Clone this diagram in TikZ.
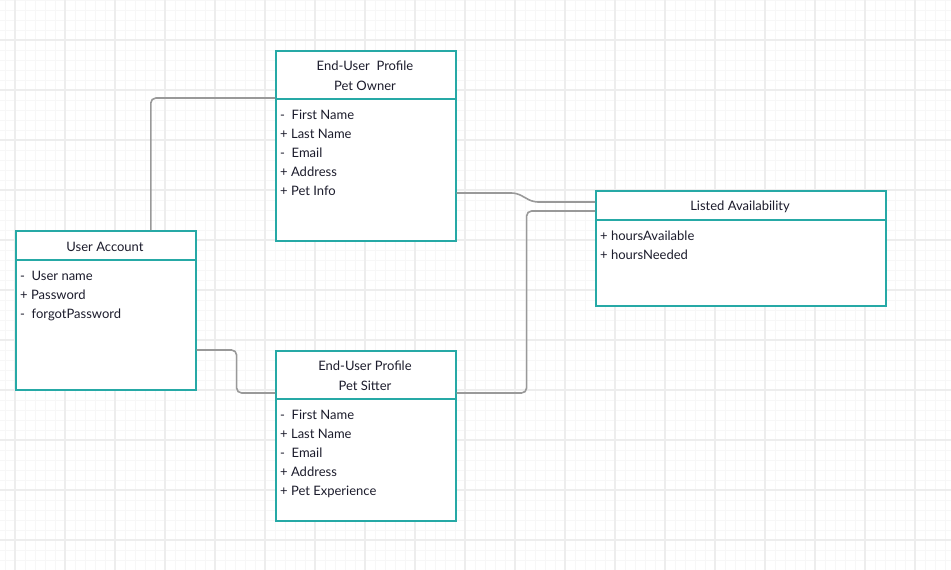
\documentclass[tikz,border=0pt]{standalone}
\usepackage{fontspec}
\setmainfont{Lato}
\usetikzlibrary{positioning}
\definecolor{classline}{RGB}{38,169,166}
\definecolor{linkgray}{RGB}{153,153,153}
\definecolor{ink}{RGB}{28,28,44}
\definecolor{minorgrid}{RGB}{247,247,247}
\definecolor{majorgrid}{RGB}{237,237,237}

\begin{document}
\begin{tikzpicture}[x=1pt,y=-1pt,
    classbox/.style={draw=classline, line width=1.6pt, fill=white, anchor=north west, inner sep=0pt},
    divider/.style={draw=classline, line width=1.6pt},
    classtitle/.style={font=\fontsize{13}{20}\selectfont, text=ink, align=center},
    attrs/.style={font=\fontsize{13}{19}\selectfont, text=ink, align=left, anchor=north west, inner sep=0pt},
    link/.style={draw=linkgray, line width=1.6pt, rounded corners=5pt}]

    \useasboundingbox (0,0) rectangle (951,570);

    % Grid
    \foreach \x in {5,15,...,945} \draw[minorgrid, line width=1pt] (\x,0) -- (\x,570);
    \foreach \y in {0,10,...,570} \draw[minorgrid, line width=1pt] (0,\y) -- (951,\y);
    \foreach \x in {15,65,...,915} \draw[majorgrid, line width=1.2pt] (\x,0) -- (\x,570);
    \foreach \y in {40,90,...,540} \draw[majorgrid, line width=1.2pt] (0,\y) -- (951,\y);

    % Classes
    \node[classbox, minimum width=180pt, minimum height=190pt] (owner) at (275,50) {};
    \draw[divider] ([yshift=-49pt]owner.north west) -- ([yshift=-49pt]owner.north east);
    \node[classtitle] (ownertitle) at (365,76) {End-User\ \ Profile\\Pet Owner};
    \node[attrs] (ownerattrs) at (280,109.5) {-\ \ First Name\\+ Last Name\\-\ \ Email\\+ Address\\+ Pet Info};

    \node[classbox, minimum width=180pt, minimum height=159pt] (account) at (15,230) {};
    \draw[divider] ([yshift=-30pt]account.north west) -- ([yshift=-30pt]account.north east);
    \node[classtitle] (accounttitle) at (105,247) {User Account};
    \node[attrs] (accountattrs) at (20,270.5) {-\ \ User name\\+ Password\\-\ \ forgotPassword};

    \node[classbox, minimum width=180pt, minimum height=170pt] (sitter) at (275,350) {};
    \draw[divider] ([yshift=-49pt]sitter.north west) -- ([yshift=-49pt]sitter.north east);
    \node[classtitle] (sittertitle) at (365,376) {End-User Profile\\Pet Sitter};
    \node[attrs] (sitterattrs) at (280,409.5) {-\ \ First Name\\+ Last Name\\-\ \ Email\\+ Address\\+ Pet Experience};

    \node[classbox, minimum width=290pt, minimum height=115pt] (avail) at (595,190) {};
    \draw[divider] ([yshift=-30pt]avail.north west) -- ([yshift=-30pt]avail.north east);
    \node[classtitle] (availtitle) at (740,207) {Listed Availability};
    \node[attrs] (availattrs) at (600,230.5) {+ hoursAvailable\\+ hoursNeeded};

    % Connectors
    \coordinate (ownerin) at ([yshift=-48pt]owner.north west);
    \coordinate (ownerout) at ([yshift=-143pt]owner.north east);
    \coordinate (sitterin) at ([yshift=-43pt]sitter.north west);
    \coordinate (sitterout) at ([yshift=-43pt]sitter.north east);
    \coordinate (accountout) at ([yshift=-120pt]account.north east);
    \coordinate (availin1) at ([yshift=-12pt]avail.north west);
    \coordinate (availin2) at ([yshift=-21pt]avail.north west);

    \draw[link] ([xshift=45pt]account.north) |- (ownerin);
    \draw[link] (accountout) -- ++(40,0) |- (sitterin);
    \draw[link] (ownerout) -- ++(60,0) -- ([xshift=-62pt]availin1) -- (availin1);
    \draw[link] (sitterout) -- ++(70,0) |- (availin2);
\end{tikzpicture}
\end{document}
